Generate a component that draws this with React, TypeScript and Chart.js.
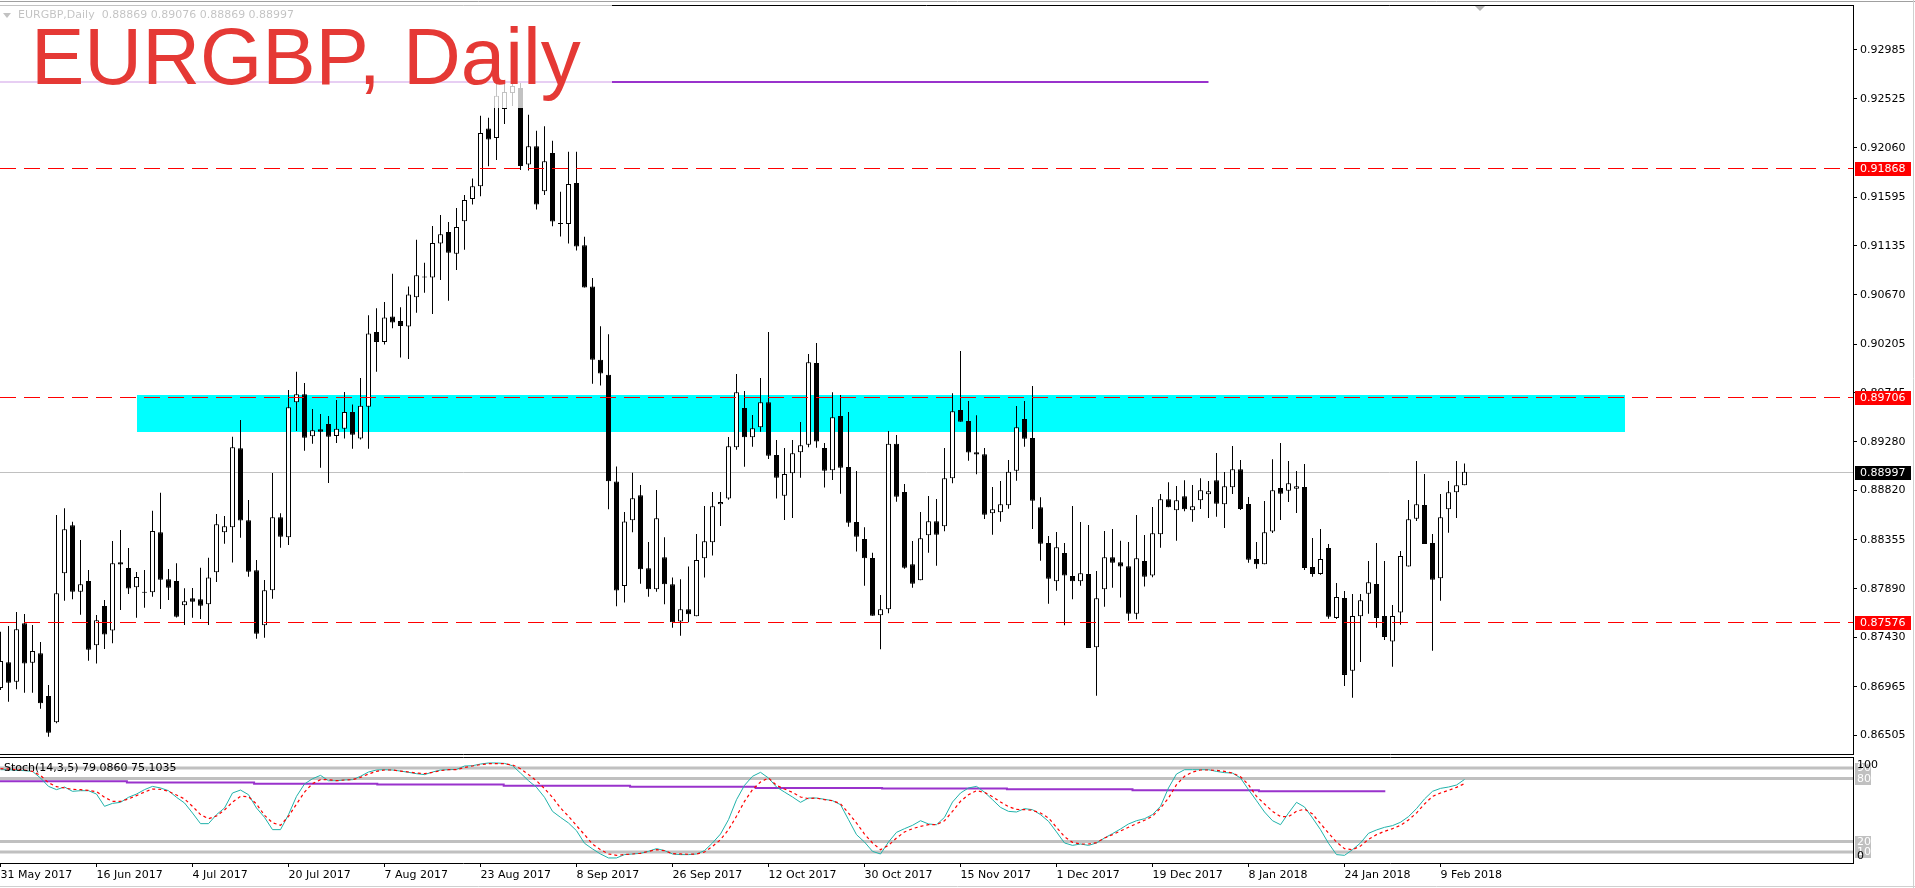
import React, { useEffect, useRef } from "react";
import { Chart, registerables } from "chart.js";

Chart.register(...registerables);

// ---------- data ----------
const OPEN = [
  0.86953, 0.87196, 0.87012, 0.87565, 0.87192, 0.87281, 0.86877, 0.86629, 0.88037, 0.88491,
  0.87863, 0.87964, 0.87357, 0.87728, 0.87495, 0.88141, 0.88087, 0.87905, 0.87858, 0.87858,
  0.88425, 0.87981, 0.87964, 0.87735, 0.87801, 0.87791, 0.87744, 0.88047, 0.88425, 0.88472,
  0.89219, 0.88538, 0.88066, 0.87546, 0.87877, 0.88567, 0.88377, 0.89654, 0.8973, 0.89333,
  0.89399, 0.89449, 0.89335, 0.89404, 0.89563, 0.89312, 0.89612, 0.90319, 0.90225, 0.90466,
  0.90422, 0.9037, 0.90646, 0.90843, 0.90835, 0.91156, 0.91264, 0.91059, 0.91366, 0.91576,
  0.91697, 0.92242, 0.92152, 0.92427, 0.92578, 0.92626, 0.91903, 0.92076, 0.91649, 0.92011,
  0.91346, 0.9134, 0.91728, 0.91138, 0.90749, 0.90056, 0.89915, 0.88905, 0.87916, 0.88538,
  0.88775, 0.88085, 0.87886, 0.88189, 0.87933, 0.8758, 0.87697, 0.87631, 0.88179, 0.8833,
  0.8869, 0.88743, 0.89229, 0.896, 0.89323, 0.89418, 0.89654, 0.89156, 0.88771, 0.88983,
  0.89181, 0.89253, 0.90026, 0.89222, 0.89011, 0.89525, 0.89042, 0.88522, 0.88362, 0.88182,
  0.8764, 0.87697, 0.89261, 0.88806, 0.88122, 0.87971, 0.88397, 0.88529, 0.88482, 0.88935,
  0.89581, 0.89477, 0.89181, 0.89162, 0.88605, 0.88614, 0.8868, 0.89007, 0.89496, 0.89317,
  0.88661, 0.88324, 0.87962, 0.88229, 0.88012, 0.87962, 0.88031, 0.87338, 0.87886, 0.88189,
  0.88141, 0.88103, 0.87655, 0.88154, 0.88015, 0.88406, 0.88737, 0.88633, 0.88765, 0.88633,
  0.88727, 0.88784, 0.88917, 0.8869, 0.8885, 0.89021, 0.88692, 0.88172, 0.88122, 0.88431,
  0.88844, 0.88818, 0.88837, 0.88853, 0.88097, 0.88031, 0.88276, 0.87615, 0.87804, 0.87116,
  0.87631, 0.87844, 0.87936, 0.87634, 0.87391, 0.87665, 0.881, 0.88553, 0.88683, 0.88324,
  0.8799, 0.88642, 0.88803, 0.88869,
];
const HIGH = [
  0.87485, 0.87539, 0.87671, 0.87652, 0.87548, 0.87388, 0.86981, 0.88589, 0.88652, 0.88525,
  0.88352, 0.88068, 0.87643, 0.87785, 0.88343, 0.88447, 0.88277, 0.8805, 0.88068, 0.88629,
  0.88799, 0.88078, 0.88132, 0.87895, 0.87898, 0.8809, 0.88185, 0.88598, 0.88579, 0.89329,
  0.89487, 0.8873, 0.88163, 0.87974, 0.88986, 0.88605, 0.8977, 0.89943, 0.89837, 0.89591,
  0.89543, 0.89525, 0.89676, 0.89751, 0.89632, 0.89884, 0.90477, 0.90542, 0.90602, 0.90869,
  0.90552, 0.90749, 0.91191, 0.90973, 0.91321, 0.91425, 0.91359, 0.91491, 0.91614, 0.91769,
  0.92363, 0.92345, 0.92673, 0.92673, 0.93051, 0.92673, 0.92372, 0.92221, 0.92263, 0.92127,
  0.91645, 0.92024, 0.92024, 0.91218, 0.90828, 0.90374, 0.90298, 0.89046, 0.88616, 0.88988,
  0.88872, 0.88333, 0.88825, 0.88378, 0.87996, 0.87981, 0.881, 0.88409, 0.88674, 0.88806,
  0.88806, 0.89326, 0.89922, 0.89761, 0.89534, 0.89884, 0.90319, 0.89298, 0.89222, 0.89298,
  0.89468, 0.90111, 0.90215, 0.89269, 0.89749, 0.89723, 0.89562, 0.89004, 0.88472, 0.88232,
  0.87832, 0.89383, 0.89345, 0.88882, 0.88343, 0.88617, 0.88768, 0.8874, 0.89222, 0.89739,
  0.90139, 0.89666, 0.89531, 0.89222, 0.88853, 0.8891, 0.89108, 0.89619, 0.89666, 0.89808,
  0.88756, 0.8839, 0.88428, 0.88324, 0.88674, 0.88522, 0.88494, 0.88059, 0.88437, 0.88456,
  0.88345, 0.88333, 0.88588, 0.88399, 0.88664, 0.88787, 0.88898, 0.88863, 0.88917, 0.88872,
  0.88935, 0.8891, 0.89175, 0.88995, 0.89241, 0.89108, 0.88759, 0.88333, 0.88721, 0.89115,
  0.89269, 0.89099, 0.89004, 0.89071, 0.88371, 0.88456, 0.88314, 0.87946, 0.8787, 0.87842,
  0.87842, 0.88154, 0.88324, 0.88154, 0.87737, 0.88248, 0.8873, 0.89099, 0.88976, 0.88409,
  0.88787, 0.8891, 0.89099, 0.89076,
];
const LOW = [
  0.86934, 0.86823, 0.8694, 0.86908, 0.86908, 0.86757, 0.86492, 0.8662, 0.87778, 0.87791,
  0.87646, 0.87211, 0.87183, 0.87322, 0.87375, 0.8769, 0.87842, 0.87617, 0.87712, 0.87816,
  0.877, 0.87785, 0.8762, 0.87548, 0.87617, 0.87605, 0.87548, 0.87955, 0.88317, 0.88138,
  0.88374, 0.88005, 0.87419, 0.87428, 0.87797, 0.88279, 0.88305, 0.89383, 0.89196, 0.89263,
  0.89036, 0.88891, 0.89269, 0.89312, 0.89215, 0.89301, 0.89215, 0.89942, 0.90201, 0.90353,
  0.90077, 0.90063, 0.90501, 0.9069, 0.90489, 0.9081, 0.90615, 0.90905, 0.91097, 0.91524,
  0.91601, 0.91886, 0.91945, 0.92285, 0.92456, 0.9185, 0.91845, 0.91476, 0.91614, 0.91318,
  0.91222, 0.91156, 0.9109, 0.90739, 0.89829, 0.89812, 0.88643, 0.87726, 0.8776, 0.88425,
  0.87939, 0.87816, 0.87863, 0.87744, 0.87523, 0.87447, 0.87574, 0.87631, 0.87996, 0.88204,
  0.88485, 0.88733, 0.89206, 0.89045, 0.89234, 0.89376, 0.89118, 0.88743, 0.88541, 0.8856,
  0.88941, 0.89229, 0.89225, 0.88847, 0.88919, 0.8879, 0.88478, 0.88242, 0.8792, 0.87636,
  0.87319, 0.87659, 0.88714, 0.88081, 0.87901, 0.87971, 0.88232, 0.88109, 0.88434, 0.88888,
  0.89471, 0.89102, 0.88973, 0.88551, 0.88402, 0.88525, 0.88648, 0.88913, 0.89234, 0.88456,
  0.88156, 0.8775, 0.87873, 0.87546, 0.87791, 0.8792, 0.87331, 0.8688, 0.87721, 0.87901,
  0.87807, 0.87589, 0.87602, 0.87911, 0.87999, 0.88279, 0.88661, 0.88345, 0.88623, 0.88525,
  0.88645, 0.8856, 0.88572, 0.88466, 0.88787, 0.88636, 0.88137, 0.88081, 0.88122, 0.88418,
  0.88541, 0.88711, 0.88607, 0.88068, 0.88005, 0.88022, 0.87608, 0.87605, 0.86972, 0.86861,
  0.87199, 0.87655, 0.87523, 0.87407, 0.87154, 0.87551, 0.881, 0.88532, 0.88314, 0.87305,
  0.87778, 0.88421, 0.8856, 0.88869,
];
const CLOSE = [
  0.87208, 0.87003, 0.87508, 0.87183, 0.87303, 0.86808, 0.8653, 0.87848, 0.88453, 0.87863,
  0.87933, 0.87315, 0.87593, 0.87457, 0.88132, 0.88119, 0.87892, 0.88002, 0.87854, 0.88437,
  0.87977, 0.87901, 0.87627, 0.87773, 0.87769, 0.87731, 0.87998, 0.88501, 0.88482, 0.89229,
  0.88535, 0.88052, 0.87466, 0.87877, 0.88567, 0.88383, 0.89607, 0.8973, 0.89319, 0.89389,
  0.89376, 0.89329, 0.89404, 0.89563, 0.89346, 0.89622, 0.90305, 0.90225, 0.90456, 0.90408,
  0.90376, 0.90673, 0.90856, 0.90835, 0.91159, 0.91242, 0.91069, 0.91312, 0.91567, 0.91697,
  0.922, 0.92138, 0.92552, 0.92588, 0.92645, 0.91888, 0.92076, 0.91524, 0.91932, 0.91363,
  0.9134, 0.91718, 0.91128, 0.90739, 0.90056, 0.89925, 0.88908, 0.87875, 0.88526, 0.88746,
  0.88075, 0.87886, 0.88557, 0.87933, 0.87574, 0.87697, 0.8765, 0.88163, 0.8834, 0.88671,
  0.88711, 0.89238, 0.89749, 0.89323, 0.89408, 0.89654, 0.89149, 0.88941, 0.88976, 0.89172,
  0.89247, 0.90032, 0.89282, 0.89007, 0.89512, 0.89036, 0.88516, 0.88383, 0.88179, 0.87636,
  0.87697, 0.89261, 0.88761, 0.8809, 0.87939, 0.88368, 0.88529, 0.88402, 0.88935, 0.89569,
  0.89471, 0.89178, 0.89159, 0.88591, 0.88642, 0.8869, 0.88998, 0.89418, 0.8931, 0.88724,
  0.88317, 0.87986, 0.88283, 0.88015, 0.87962, 0.88037, 0.87331, 0.87801, 0.88189, 0.88137,
  0.881, 0.87655, 0.88179, 0.88005, 0.88415, 0.88737, 0.88661, 0.88727, 0.88642, 0.88671,
  0.88822, 0.88813, 0.88695, 0.8886, 0.89021, 0.88645, 0.88166, 0.88122, 0.88425, 0.88822,
  0.8879, 0.88888, 0.8886, 0.88087, 0.88031, 0.88172, 0.87627, 0.87813, 0.87076, 0.87634,
  0.87782, 0.87952, 0.87615, 0.87435, 0.87634, 0.88201, 0.88548, 0.8869, 0.88314, 0.87977,
  0.88567, 0.88803, 0.88869, 0.88997,
];

const STOCH_K = [
  88.4, 88.4, 87.8, 87.5, 86.8, 80.5, 72.5, 69.4, 71.9, 67.8,
  68.4, 68.4, 65.2, 53.5, 56.3, 57.3, 62.1, 65.2, 69.4, 72.5,
  71.0, 68.4, 62.1, 56.7, 47.1, 37.0, 37.0, 45.6, 51.9, 66.2,
  69.0, 64.6, 51.9, 43.0, 31.3, 31.3, 45.6, 63.0, 74.8, 79.8,
  83.0, 77.9, 77.9, 78.6, 78.9, 82.1, 86.2, 88.1, 88.4, 88.1,
  87.1, 85.9, 84.6, 83.7, 86.2, 88.1, 88.4, 88.7, 91.9, 92.2,
  93.8, 94.8, 94.8, 94.4, 92.2, 85.2, 77.9, 71.6, 62.1, 48.7,
  43.0, 37.6, 30.3, 18.3, 12.9, 8.1, 4.3, 4.3, 7.5, 8.1,
  8.7, 10.6, 13.2, 11.3, 8.1, 7.5, 7.5, 8.1, 11.3, 18.6,
  27.1, 40.8, 59.8, 73.5, 82.1, 85.9, 80.5, 71.9, 67.1, 62.4,
  57.3, 61.4, 61.4, 60.2, 58.9, 55.1, 40.8, 26.5, 19.5, 10.6,
  8.1, 19.5, 28.7, 32.2, 35.4, 39.8, 36.7, 36.0, 43.0, 57.6,
  66.2, 71.0, 72.5, 67.0, 59.8, 52.5, 48.7, 48.1, 51.3, 50.3,
  45.6, 39.2, 29.1, 18.6, 16.3, 17.6, 16.3, 18.6, 23.3, 27.5,
  31.9, 36.7, 39.8, 41.7, 45.6, 53.5, 71.0, 84.3, 88.4, 88.4,
  88.4, 88.4, 86.8, 85.6, 85.2, 80.5, 69.4, 58.9, 48.1, 39.8,
  36.0, 47.1, 57.3, 52.9, 42.4, 31.3, 18.3, 7.5, 6.8, 12.2,
  18.6, 27.8, 31.0, 33.5, 35.1, 38.3, 43.7, 51.3, 60.5, 67.8,
  70.6, 71.9, 73.8, 79.086,
];
const STOCH_D = [
  89.4, 89.0, 88.4, 88.1, 86.8, 82.9, 76.0, 72.2, 71.0, 69.7,
  69.4, 68.7, 67.5, 62.1, 58.3, 58.3, 60.5, 63.7, 67.1, 70.0,
  69.7, 67.8, 64.3, 60.5, 53.5, 45.6, 41.7, 44.3, 50.0, 57.6,
  63.0, 62.7, 55.7, 44.9, 37.9, 35.4, 44.0, 55.7, 67.1, 75.1,
  78.9, 78.9, 77.9, 78.6, 78.9, 81.1, 84.3, 86.8, 88.1, 88.1,
  87.1, 86.2, 85.2, 84.6, 85.9, 87.5, 88.4, 88.4, 90.6, 91.9,
  93.2, 94.1, 94.1, 94.1, 92.9, 89.4, 83.7, 77.9, 70.3, 62.1,
  51.9, 44.0, 35.1, 26.5, 17.6, 12.2, 8.1, 6.8, 7.5, 8.1,
  8.7, 10.6, 12.2, 11.3, 8.4, 8.1, 7.8, 8.1, 10.0, 15.4,
  21.7, 31.3, 44.0, 58.3, 69.4, 76.7, 80.5, 73.5, 70.0, 66.8,
  62.4, 60.8, 61.4, 59.8, 58.9, 56.0, 47.1, 37.6, 27.1, 18.6,
  12.2, 16.3, 23.3, 29.1, 32.2, 34.4, 36.0, 36.0, 39.8, 48.7,
  58.3, 64.6, 68.4, 66.8, 62.7, 57.6, 53.2, 50.6, 50.3, 49.7,
  47.1, 42.4, 33.5, 24.6, 19.2, 17.6, 17.6, 18.9, 23.3, 26.5,
  30.0, 33.5, 37.0, 40.2, 44.0, 51.9, 61.4, 74.1, 82.1, 86.2,
  88.1, 88.1, 87.8, 86.8, 85.2, 81.7, 74.1, 63.0, 55.7, 48.7,
  43.7, 43.7, 48.7, 50.9, 46.2, 37.0, 28.1, 19.5, 13.2, 12.2,
  15.7, 22.1, 26.5, 29.7, 32.2, 35.4, 40.5, 47.1, 55.7, 63.0,
  66.2, 68.7, 71.6, 75.1035,
];

// stepped purple line in the oscillator window (bar index where a step starts, value)
const PURPLE_STEP_X = [-1, 15.8, 31.7, 47.1, 62.9, 78.7, 94.4, 110.2, 125.8, 141.5, 157.3, 173.1];
const PURPLE_STEP_V = [77.3, 76.3, 75.1, 74.2, 73.2, 72.2, 71.0, 70.4, 69.7, 68.7, 67.8, 67.8];

const DATE_TICK_INDEX = [0, 12, 24, 36, 48, 60, 72, 84, 96, 108, 120, 132, 144, 156, 168, 180];
const DATE_LABELS = [
  "31 May 2017", "16 Jun 2017", "4 Jul 2017", "20 Jul 2017", "7 Aug 2017", "23 Aug 2017",
  "8 Sep 2017", "26 Sep 2017", "12 Oct 2017", "30 Oct 2017", "15 Nov 2017", "1 Dec 2017",
  "19 Dec 2017", "8 Jan 2018", "24 Jan 2018", "9 Feb 2018",
];
const PRICE_TICKS = [
  0.92985, 0.92525, 0.9206, 0.91595, 0.91135, 0.9067, 0.90205, 0.89745,
  0.8928, 0.8882, 0.88355, 0.8789, 0.8743, 0.86965, 0.86505,
];
const RED_LEVELS = [0.91868, 0.89706, 0.87576];
const LAST_PRICE = 0.88997;
const PURPLE_LEVEL = 0.92686;
const PURPLE_LEVEL_END = 151;
const ZONE_FROM = 17;
const ZONE_TO = 203;
const ZONE_LOW = 0.89376;
const ZONE_HIGH = 0.89722;
const STOCH_LEVELS = [90, 80, 20, 10];

const PRICE_MIN = 0.863282;
const PRICE_MAX = 0.934105;
const X_MIN = -0.0625;
const X_MAX = 231.5625;

const SYMBOL = "EURGBP";
const PERIOD = "Daily";
const FONT = '"DejaVu Sans", Verdana, sans-serif';

const last = OPEN.length - 1;
const HEADER_TEXT = `${SYMBOL},${PERIOD}  ${OPEN[last].toFixed(5)} ${HIGH[last].toFixed(5)} ${LOW[last].toFixed(5)} ${CLOSE[last].toFixed(5)}`;
const STOCH_TEXT = `Stoch(14,3,5) ${STOCH_K[last].toFixed(4)} ${STOCH_D[last].toFixed(4)}`;

Chart.defaults.font.family = FONT;

function hLine(v: number, color: string, width: number, order: number) {
  return {
    type: "line" as const,
    data: [{ x: X_MIN, y: v }, { x: X_MAX, y: v }],
    borderColor: color,
    borderWidth: width,
    pointRadius: 0,
    order,
  };
}

// crisp horizontal line at a price, through the chart's own scales
function drawLevel(chart: any, v: number, color: string, width: number, dash: number[], xFrom: number, xTo: number) {
  const { ctx, scales } = chart;
  const py = Math.round(scales.y.getPixelForValue(v)) + (width % 2 ? 0.5 : 0);
  const x1 = scales.x.getPixelForValue(xFrom);
  const x2 = scales.x.getPixelForValue(xTo);
  ctx.save();
  ctx.strokeStyle = color;
  ctx.lineWidth = width;
  ctx.setLineDash(dash);
  ctx.beginPath();
  ctx.moveTo(x1, py);
  ctx.lineTo(x2, py);
  ctx.stroke();
  ctx.restore();
}

const mainPlugin = {
  id: "mainDecor",
  beforeDatasetsDraw(chart: any) {
    const { ctx, chartArea: a, scales } = chart;
    const x = scales.x, y = scales.y;
    ctx.save();
    ctx.beginPath();
    ctx.rect(a.left, a.top, a.width, a.height);
    ctx.clip();
    const x1 = Math.round(x.getPixelForValue(ZONE_FROM));
    const x2 = Math.round(x.getPixelForValue(ZONE_TO));
    const y1 = Math.round(y.getPixelForValue(ZONE_HIGH));
    const y2 = Math.round(y.getPixelForValue(ZONE_LOW));
    ctx.fillStyle = "#00FFFF";
    ctx.fillRect(x1, y1, x2 - x1, y2 - y1);
    ctx.restore();
    drawLevel(chart, LAST_PRICE, "#C0C0C0", 1, [], X_MIN, X_MAX);
  },
  afterDatasetsDraw(chart: any) {
    const { ctx, chartArea: a } = chart;
    RED_LEVELS.forEach((v) => drawLevel(chart, v, "#FF0000", 1, [16, 8], X_MIN, X_MAX));
    drawLevel(chart, PURPLE_LEVEL, "#9932CC", 2, [], X_MIN, PURPLE_LEVEL_END);
    ctx.save();
    ctx.strokeStyle = "#000";
    ctx.lineWidth = 1;
    ctx.beginPath();
    ctx.moveTo(0, a.top + 0.5);
    ctx.lineTo(a.right, a.top + 0.5);
    ctx.moveTo(0, a.bottom + 0.5);
    ctx.lineTo(a.right + 1, a.bottom + 0.5);
    ctx.stroke();
    // header line (drawn under the title's veil)
    ctx.fillStyle = "#000";
    ctx.beginPath();
    ctx.moveTo(3, 13);
    ctx.lineTo(11, 13);
    ctx.lineTo(7, 18);
    ctx.closePath();
    ctx.fill();
    ctx.font = `11px ${FONT}`;
    ctx.textBaseline = "middle";
    ctx.textAlign = "left";
    ctx.fillText(HEADER_TEXT, 18, 15.5);
    // translucent box of the title object
    ctx.fillStyle = "rgba(255,255,255,0.76)";
    ctx.fillRect(0, 0, 612, 108);
    // title
    ctx.fillStyle = "#E53935";
    ctx.font = '80px "Liberation Sans", Arial, sans-serif';
    ctx.textBaseline = "alphabetic";
    ctx.fillText(`${SYMBOL}, ${PERIOD}`, 31, 84);
    ctx.restore();
  },
  afterDraw(chart: any) {
    const { ctx, chartArea: a, scales, width } = chart;
    const y = scales.y;
    ctx.save();
    ctx.font = `11px ${FONT}`;
    ctx.textBaseline = "middle";
    ctx.textAlign = "left";
    const box = (v: number, bg: string) => {
      const py = Math.round(y.getPixelForValue(v));
      ctx.fillStyle = bg;
      ctx.fillRect(a.right + 2, py - 6, 56, 14);
      ctx.fillStyle = "#fff";
      ctx.fillText(v.toFixed(5), a.right + 7, py + 1);
    };
    RED_LEVELS.forEach((v) => box(v, "#FF0000"));
    box(LAST_PRICE, "#000000");
    // window chrome
    ctx.strokeStyle = "#A0A0A0";
    ctx.beginPath();
    ctx.moveTo(0, 1.5);
    ctx.lineTo(width, 1.5);
    ctx.stroke();
    ctx.strokeStyle = "#D0D0D0";
    ctx.beginPath();
    ctx.moveTo(width - 1.5, 0);
    ctx.lineTo(width - 1.5, chart.height);
    ctx.stroke();
    ctx.fillStyle = "#B4B4B4";
    ctx.beginPath();
    ctx.moveTo(1475, 6);
    ctx.lineTo(1485, 6);
    ctx.lineTo(1480, 11);
    ctx.closePath();
    ctx.fill();
    ctx.restore();
  },
};

const stochPlugin = {
  id: "stochDecor",
  afterDatasetsDraw(chart: any) {
    const { ctx, chartArea: a } = chart;
    ctx.save();
    ctx.strokeStyle = "#000";
    ctx.lineWidth = 1;
    ctx.beginPath();
    ctx.moveTo(0, a.top + 0.5);
    ctx.lineTo(a.right + 1, a.top + 0.5);
    ctx.moveTo(a.right + 0.5, a.top);
    ctx.lineTo(a.right + 0.5, a.bottom + 1);
    ctx.stroke();
    ctx.fillStyle = "#000";
    ctx.font = `11px ${FONT}`;
    ctx.textBaseline = "middle";
    ctx.textAlign = "left";
    ctx.fillText(STOCH_TEXT, 4, a.top + 11);
    ctx.restore();
  },
  afterDraw(chart: any) {
    const { ctx, chartArea: a, scales, width, height } = chart;
    const y = scales.y;
    ctx.save();
    ctx.font = `11px ${FONT}`;
    ctx.textBaseline = "middle";
    ctx.textAlign = "left";
    STOCH_LEVELS.forEach((v) => {
      const py = y.getPixelForValue(v);
      ctx.fillStyle = "#C0C0C0";
      ctx.fillRect(a.right + 2, Math.round(py) - 5, 16, 11);
      ctx.fillStyle = "#fff";
      ctx.fillText(String(v), a.right + 4, py + 0.5);
    });
    ctx.fillStyle = "#000";
    ctx.fillText("100", a.right + 4, a.top + 8);
    ctx.fillText("0", a.right + 4, a.bottom - 7);
    ctx.strokeStyle = "#D0D0D0";
    ctx.beginPath();
    ctx.moveTo(width - 1.5, 0);
    ctx.lineTo(width - 1.5, height);
    ctx.moveTo(0, height - 1.5);
    ctx.lineTo(width, height - 1.5);
    ctx.stroke();
    ctx.restore();
  },
};

function mainConfig(): any {
  const wickData = OPEN.map((_, i) => ({ x: i, y: [LOW[i], HIGH[i]] }));
  const bodyData = OPEN.map((o, i) => ({ x: i, y: [o, CLOSE[i]] }));
  const bodyColors = OPEN.map((o, i) => (CLOSE[i] >= o ? "#FFFFFF" : "#000000"));
  return {
    type: "bar",
    data: {
      datasets: [
        {
          type: "bar",
          data: wickData,
          backgroundColor: "#000000",
          borderWidth: 0,
          barThickness: 1,
          grouped: false,
          inflateAmount: 0,
          order: 3,
        },
        {
          type: "bar",
          data: bodyData,
          backgroundColor: bodyColors,
          borderColor: "#000000",
          borderWidth: 1,
          borderSkipped: false,
          barThickness: 5,
          grouped: false,
          inflateAmount: 0,
          minBarLength: 1,
          order: 2,
        },
      ],
    },
    options: {
      animation: false,
      responsive: false,
      devicePixelRatio: 1,
      events: [],
      layout: { padding: { top: 5, bottom: 3, left: 0, right: 0 } },
      plugins: { legend: { display: false }, tooltip: { enabled: false } },
      scales: {
        x: { type: "linear", min: X_MIN, max: X_MAX, offset: false, display: false },
        y: {
          type: "linear",
          position: "right",
          min: PRICE_MIN,
          max: PRICE_MAX,
          afterBuildTicks: (s: any) => {
            s.ticks = PRICE_TICKS.map((v) => ({ value: v }));
          },
          afterFit: (s: any) => {
            s.width = 62;
            s.paddingTop = 0;
            s.paddingBottom = 0;
          },
          ticks: {
            autoSkip: false,
            padding: 3,
            color: "#000",
            font: { family: FONT, size: 11 },
            callback: (v: any) => Number(v).toFixed(5),
          },
          grid: { drawOnChartArea: false, drawTicks: true, tickLength: 4, color: "#000" },
          border: { display: true, color: "#000" },
        },
      },
    },
    plugins: [mainPlugin],
  };
}

function stochConfig(): any {
  const purple = PURPLE_STEP_X.map((x, k) => ({ x, y: PURPLE_STEP_V[k] }));
  return {
    type: "line",
    data: {
      datasets: [
        ...STOCH_LEVELS.map((v) => hLine(v, "#C0C0C0", 3, 5)),
        {
          data: purple,
          borderColor: "#9932CC",
          borderWidth: 2,
          pointRadius: 0,
          stepped: "before",
          order: 3,
        },
        {
          data: STOCH_K.map((v, i) => ({ x: i, y: v })),
          borderColor: "#20B2AA",
          borderWidth: 1,
          pointRadius: 0,
          tension: 0,
          order: 1,
        },
        {
          data: STOCH_D.map((v, i) => ({ x: i, y: v })),
          borderColor: "#FF0000",
          borderWidth: 1.2,
          borderDash: [3, 3],
          pointRadius: 0,
          tension: 0,
          order: 0,
        },
      ],
    },
    options: {
      animation: false,
      responsive: false,
      devicePixelRatio: 1,
      events: [],
      layout: { padding: { top: 0, bottom: 0, left: 0, right: 62 } },
      plugins: { legend: { display: false }, tooltip: { enabled: false } },
      scales: {
        x: {
          type: "linear",
          min: X_MIN,
          max: X_MAX,
          offset: false,
          afterBuildTicks: (s: any) => {
            s.ticks = DATE_TICK_INDEX.map((v) => ({ value: v }));
          },
          afterFit: (s: any) => {
            s.height = 25;
            s.paddingLeft = 0;
            s.paddingRight = 0;
          },
          ticks: {
            autoSkip: false,
            maxRotation: 0,
            minRotation: 0,
            align: "start",
            padding: 2,
            color: "#000",
            font: { family: FONT, size: 11 },
            callback: (_v: any, i: number) => DATE_LABELS[i],
          },
          grid: { drawOnChartArea: false, drawTicks: true, tickLength: 4, color: "#000" },
          border: { display: true, color: "#000" },
        },
        y: { type: "linear", min: -0.5, max: 100.5, display: false },
      },
    },
    plugins: [stochPlugin],
  };
}

export default function App() {
  const mainRef = useRef<HTMLCanvasElement>(null);
  const stochRef = useRef<HTMLCanvasElement>(null);
  useEffect(() => {
    const main = new Chart(mainRef.current as HTMLCanvasElement, mainConfig());
    const stoch = new Chart(stochRef.current as HTMLCanvasElement, stochConfig());
    return () => {
      main.destroy();
      stoch.destroy();
    };
  }, []);
  return (
    <div
      style={{
        position: "fixed",
        left: 0,
        top: 0,
        width: 1915,
        height: 888,
        background: "#ffffff",
        overflow: "hidden",
      }}
    >
      <canvas
        ref={mainRef}
        width={1915}
        height={757}
        style={{ position: "absolute", left: 0, top: 0, width: 1915, height: 757, display: "block" }}
      />
      <canvas
        ref={stochRef}
        width={1915}
        height={131}
        style={{ position: "absolute", left: 0, top: 757, width: 1915, height: 131, display: "block" }}
      />
    </div>
  );
}
